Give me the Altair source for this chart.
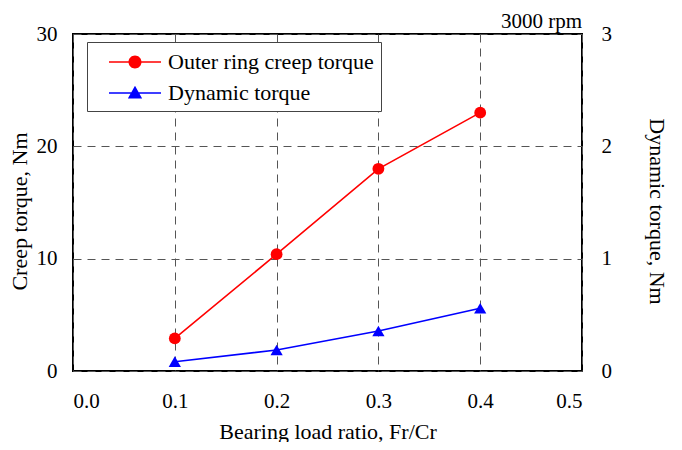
import altair as alt
import pandas as pd

load_ratio = [0.1, 0.2, 0.3, 0.4]
creep_torque = [2.9, 10.4, 18.0, 23.0]
dynamic_torque = [0.083, 0.187, 0.356, 0.558]
series_names = ["Outer ring creep torque", "Dynamic torque"]
series_colors = ["#FF0000", "#0000FF"]
x_ticks = [0.0, 0.1, 0.2, 0.3, 0.4, 0.5]
left_ticks = [0, 10, 20, 30]
right_ticks = [0, 1, 2, 3]

FONT = "Liberation Serif"

df = pd.DataFrame({"x": load_ratio, "creep": creep_torque, "dyn": dynamic_torque})
legend_df = pd.DataFrame({"series": series_names})

# legend symbols: line segment + marker (custom paths)
circle_path = ("M-2,-0.06 L2,-0.06 L2,0.06 L-2,0.06 Z "
               "M-0.5,0 A0.5,0.5 0 1,1 0.5,0 A0.5,0.5 0 1,1 -0.5,0 Z")
tri_path = ("M-2,-0.06 L2,-0.06 L2,0.06 L-2,0.06 Z "
            "M0,-0.55 L0.55,0.42 L-0.55,0.42 Z")

x_enc = alt.X("x:Q", scale=alt.Scale(domain=[0, 0.5], nice=False),
              axis=alt.Axis(values=x_ticks, format=".1f", title="Bearing load ratio, Fr/Cr",
                            grid=True, gridDash=[8, 6], gridColor="#555", gridWidth=1,
                            ticks=False, domain=False, labelPadding=19,
                            titleBaseline="alphabetic", titleY=67))

y_left = alt.Y("creep:Q", scale=alt.Scale(domain=[0, 30], nice=False),
               axis=alt.Axis(values=left_ticks, title="Creep torque, Nm", orient="left",
                             grid=True, gridDash=[8, 6], gridColor="#555", gridWidth=1,
                             ticks=False, domain=False, labelPadding=16,
                             titleBaseline="alphabetic", titleX=-47, titleY=177, titleAngle=270))

y_right = alt.Y("dyn:Q", scale=alt.Scale(domain=[0, 3], nice=False),
                axis=alt.Axis(values=right_ticks, title="Dynamic torque, Nm", orient="right",
                              grid=False, ticks=False, domain=False, labelPadding=19,
                              titleBaseline="alphabetic", titleX=67, titleY=177, titleAngle=90))

base = alt.Chart(df)

red_line = base.mark_line(color=series_colors[0], strokeWidth=1.6).encode(x=x_enc, y=y_left)
red_pts = base.mark_point(filled=True, color=series_colors[0], size=140, opacity=1).encode(x=x_enc, y=y_left)

legend_props = dict(title=None, orient="none", legendX=14, legendY=8, symbolSize=676,
                    symbolOffset=28, labelOffset=20, padding=7, rowPadding=7, labelLimit=0,
                    strokeColor="#444", fillColor="white", labelFont=FONT, labelFontSize=22,
                    labelColor="black", symbolOpacity=1, symbolStrokeWidth=0, cornerRadius=0)

legend_layer = alt.Chart(legend_df).mark_point(filled=True, opacity=0).encode(
    color=alt.Color("series:N", scale=alt.Scale(domain=series_names, range=series_colors),
                    legend=alt.Legend(**legend_props)),
    shape=alt.Shape("series:N", scale=alt.Scale(domain=series_names, range=[circle_path, tri_path]),
                    legend=alt.Legend(**legend_props)),
)

red_layer = alt.layer(red_line, red_pts, legend_layer)

blue_line = base.mark_line(color=series_colors[1], strokeWidth=1.6).encode(x=x_enc, y=y_right)
blue_pts = base.mark_point(filled=True, shape="triangle-up", color=series_colors[1], size=150,
                           opacity=1).encode(x=x_enc, y=y_right)
blue_layer = alt.layer(blue_line, blue_pts)

chart = alt.layer(red_layer, blue_layer).resolve_scale(y="independent").properties(
    width=509, height=337,
    title=alt.Title("3000 rpm", anchor="end", frame="group", fontSize=21, font=FONT,
                    fontWeight="normal", color="black", offset=12, dy=21),
    padding={"left": 65, "top": 26, "right": 92, "bottom": 71},
    autosize="none",
    background="white",
).configure_view(stroke="black", strokeWidth=2).configure_axis(
    labelFont=FONT, labelFontSize=21, labelColor="black",
    titleFont=FONT, titleFontSize=22, titleColor="black", titleFontWeight="normal",
)

chart.save("out.html", embed_options={"renderer": "svg", "actions": False})
